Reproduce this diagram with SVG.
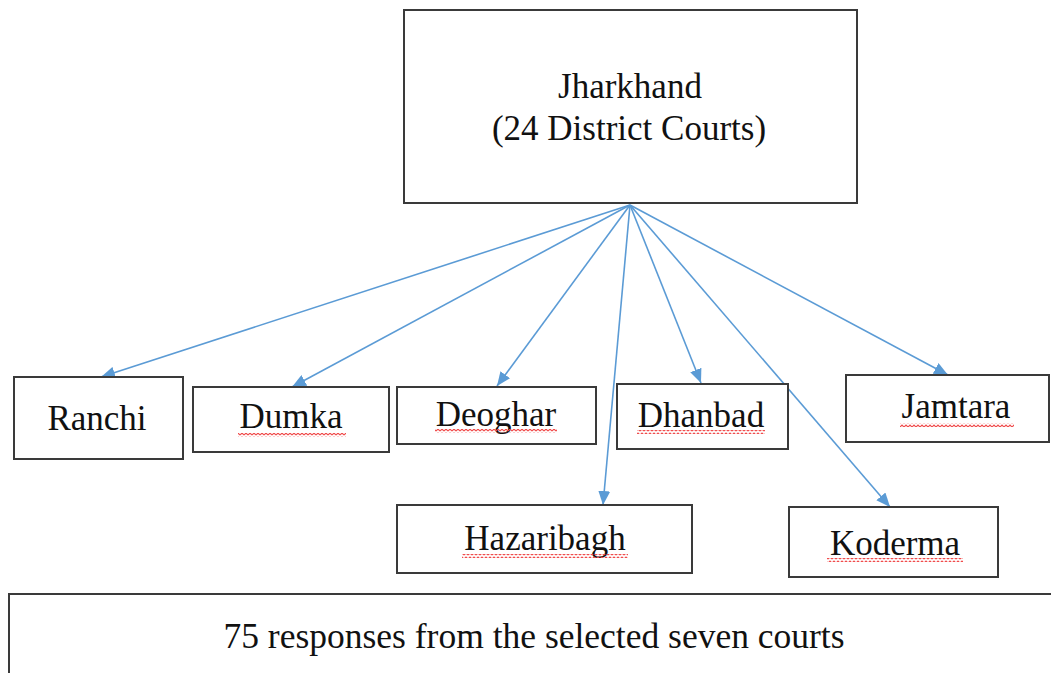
<svg xmlns="http://www.w3.org/2000/svg" width="1051" height="673" viewBox="0 0 1051 673">
<style>
.box{fill:#fff;stroke:#3a3a3a;stroke-width:2}
.lbl{font-family:"Liberation Serif","Times New Roman",serif;font-size:35px;fill:#111;text-anchor:middle}
.big{font-size:35px}
.conn{stroke:#5b9bd5;stroke-width:1.6;fill:none;marker-end:url(#ah)}
.wave{fill:url(#wv)}
</style>
<defs>
<marker id="ah" markerUnits="userSpaceOnUse" markerWidth="15" markerHeight="12" refX="14" refY="6" orient="auto">
<path d="M0,0 L14,6 L0,12 z" fill="#5b9bd5"/>
</marker>
<pattern id="wv" patternUnits="userSpaceOnUse" width="4" height="4">
<path d="M0,3 L2,1 L4,3" stroke="#f04848" stroke-width="1.1" fill="none"/>
</pattern>
</defs>
<rect width="1051" height="673" fill="#fff"/>
<g id="connectors">
<line class="conn" x1="630" y1="205" x2="101" y2="377"/>
<line class="conn" x1="630" y1="205" x2="292" y2="387"/>
<line class="conn" x1="630" y1="205" x2="497" y2="386"/>
<line class="conn" x1="630" y1="205" x2="603" y2="505"/>
<line class="conn" x1="630" y1="205" x2="701" y2="383"/>
<line class="conn" x1="630" y1="205" x2="890" y2="507"/>
<line class="conn" x1="630" y1="205" x2="948" y2="375"/>
</g>
<g id="jharkhand">
<rect class="box" x="404" y="10" width="453" height="193"/>
<text class="lbl big" x="630" y="98">Jharkhand</text>
<text class="lbl big" x="629" y="140">(24 District Courts)</text>
</g>
<g id="ranchi">
<rect class="box" x="14" y="377" width="169" height="82"/>
<text class="lbl" x="97" y="430">Ranchi</text>
</g>
<g id="dumka">
<rect class="box" x="193" y="387" width="196" height="65"/>
<text class="lbl" x="291" y="428">Dumka</text>
<rect class="wave" x="238" y="433" width="108" height="4"/>
</g>
<g id="deoghar">
<rect class="box" x="397" y="387" width="199" height="57"/>
<text class="lbl" x="496" y="426">Deoghar</text>
<rect class="wave" x="435" y="429" width="122" height="4"/>
</g>
<g id="dhanbad">
<rect class="box" x="617" y="384" width="171" height="65"/>
<text class="lbl" x="701" y="427">Dhanbad</text>
<rect class="wave" x="637" y="430" width="128" height="4"/>
</g>
<g id="jamtara">
<rect class="box" x="846" y="375" width="203" height="67"/>
<text class="lbl" x="956" y="418">Jamtara</text>
<rect class="wave" x="900" y="423" width="114" height="4"/>
</g>
<g id="hazaribagh">
<rect class="box" x="397" y="505" width="295" height="68"/>
<text class="lbl" x="545" y="550">Hazaribagh</text>
<rect class="wave" x="462" y="554" width="166" height="4"/>
</g>
<g id="koderma">
<rect class="box" x="789" y="507" width="209" height="70"/>
<text class="lbl" x="895" y="555">Koderma</text>
<rect class="wave" x="827" y="558" width="136" height="4"/>
</g>
<g id="responses">
<rect class="box" x="9" y="594" width="1060" height="100"/>
<text class="lbl" x="534" y="648" style="font-size:35.5px">75 responses from the selected seven courts</text>
</g>
</svg>
